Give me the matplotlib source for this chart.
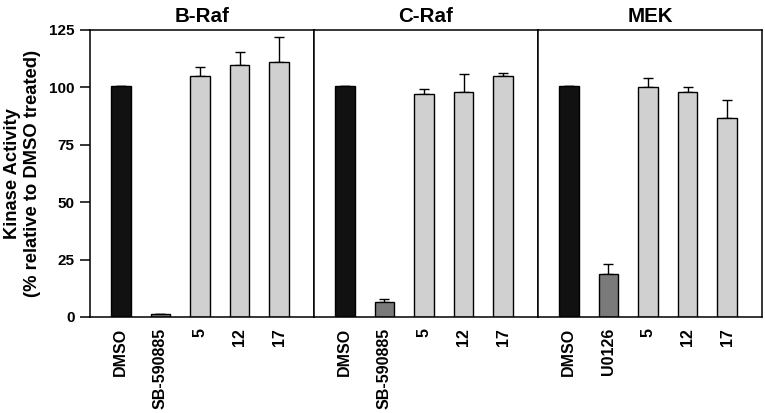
import matplotlib.pyplot as plt
import numpy as np

plt.rcParams['font.family'] = ['Liberation Sans', 'DejaVu Sans']
plt.rcParams['font.weight'] = 'bold'

panels = ['B-Raf', 'C-Raf', 'MEK']

braf_labels = ['DMSO', 'SB-590885', '5', '12', '17']
braf_vals = [100.5, 1.2, 105, 109.8, 111.2]
braf_err = [0, 0, 3.9, 5.5, 10.6]

craf_labels = ['DMSO', 'SB-590885', '5', '12', '17']
craf_vals = [100.5, 6.7, 97.1, 97.9, 105]
craf_err = [0, 1.1, 2.1, 7.9, 1.4]

mek_labels = ['DMSO', 'U0126', '5', '12', '17']
mek_vals = [100.5, 18.7, 100.3, 97.9, 86.5]
mek_err = [0, 4.5, 3.7, 2.1, 8.0]

colours = ['#111111', '#7a7a7a', '#d0d0d0', '#d0d0d0', '#d0d0d0']

fig = plt.figure(figsize=(7.65, 4.13), dpi=100)
axes = []
left, width = 90 / 765, 224 / 765
bottom, height = 1 - 317 / 413, 287 / 413
for i in range(3):
    axes.append(fig.add_axes([left + i * width, bottom, width, height]))

data = [(braf_labels, braf_vals, braf_err),
        (craf_labels, craf_vals, craf_err),
        (mek_labels, mek_vals, mek_err)]

for i, (ax, (labels, vals, err)) in enumerate(zip(axes, data)):
    x = np.arange(len(vals))
    ax.bar(x, vals, width=0.5, color=colours, edgecolor='black', linewidth=1.0, zorder=2)
    ax.errorbar(x, vals, yerr=[np.zeros(len(err)), err], fmt='none', ecolor='black',
                elinewidth=1.0, capsize=3.6, capthick=1.0, zorder=1)
    ax.set_xlim(-0.78, 4.88)
    ax.set_ylim(0, 125)
    ax.set_xticks(x)
    ax.set_xticklabels(labels, rotation=90, fontsize=11.5, fontweight='bold')
    ax.tick_params(axis='x', length=0, pad=8)
    ax.set_title(panels[i], fontsize=14.8, fontweight='bold', pad=6)
    for sp in ax.spines.values():
        sp.set_linewidth(1.1)
    if i == 0:
        ax.set_yticks([0, 25, 50, 75, 100, 125])
        ax.tick_params(axis='y', length=7, width=1.1, labelsize=11, pad=4)
        ax.set_ylabel('Kinase Activity\n(% relative to DMSO treated)', fontsize=13.2,
                      fontweight='bold', labelpad=6)
    else:
        ax.set_yticks([])

fig.savefig('out.png', dpi=100)
